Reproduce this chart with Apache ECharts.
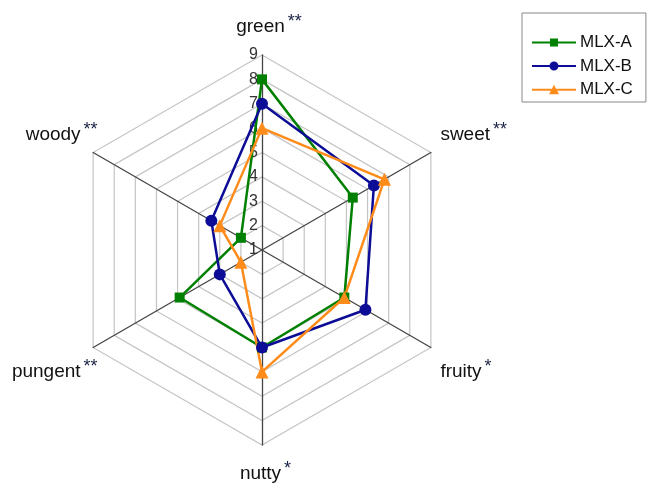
<html>
<head>
<meta http-equiv="content-type" content="text/html; charset=utf-8">
<script src="https://cdn.jsdelivr.net/npm/echarts@6/dist/echarts.min.js"></script>
<style>
	html, body { margin: 0; padding: 0; background: #ffffff; }
	#chart { width: 647px; height: 487px; }
</style>
<title>Radar</title>
</head>
<body>
<div id="chart"></div>
<script type="text/javascript">
////////////////////////////////////////////////////////////////////////////
// data (axes listed counter-clockwise from the top, as echarts draws them)
var attributes = ["green", "woody", "pungent", "nutty", "fruity", "sweet"];
var stars = ["**", "**", "**", "*", "*", "**"];
var series_names = ["MLX-A", "MLX-B", "MLX-C"];
var mlx_a = [8.0, 2.0, 4.9, 5.0, 4.9, 5.3];
var mlx_b = [7.0, 3.4, 3.0, 5.0, 5.9, 6.3];
var mlx_c = [6.0, 3.0, 2.0, 6.0, 4.9, 6.8];

////////////////////////////////////////////////////////////////////////////
// styles
var colors = ["#008000", "#0c0c96", "#ff8c1a"];
var symbols = ["rect", "circle", "triangle"];
var sym_sizes = [10, 12, 13];
var font = "'Liberation Sans', Arial, sans-serif";
// name placement style per axis: top, upper sides, lower sides, bottom
var name_pos = ["t", "u", "d", "b", "d", "u"];

// legend icons: a line with the marker in the middle
var icons = [
	"path://M0,4H44V6H0Z M18,1H26V9H18Z",
	"path://M0,4H44V6H0Z M22,0.5A4.5,4.5 0 1,1 21.99,0.5Z",
	"path://M0,4H44V6H0Z M22,0L27,9.5L17,9.5Z"
];

var indicators = attributes.map(function (a, i) {
	var ind = { name: a, min: 1, max: 9 };
	if (i > 0) ind.axisLabel = { show: false };
	return ind;
});

var all_values = [mlx_a, mlx_b, mlx_c];
var series_data = series_names.map(function (n, i) {
	return {
		name: n,
		value: all_values[i],
		symbol: symbols[i],
		symbolSize: sym_sizes[i],
		itemStyle: { color: colors[i] },
		lineStyle: { color: colors[i], width: 2.5 }
	};
});

// rich text styles for the axis names (word + superscript stars)
// the stars token has zero width so the word alone is placed at the axis end
var word_pads = { t: [4, 0, 8, 0], u: [4, 0, 28, 0], d: [38, 0, 0, 0], b: [8, 0, 0, 0] };
var star_top = { t: 0, u: 0, d: 34, b: 4 };
var rich = {};
for (var k in word_pads) {
	rich['n' + k] = { fontSize: 19, fontFamily: font, color: '#111', verticalAlign: 'top', align: 'left', padding: word_pads[k] };
	rich['s' + k] = { fontSize: 18, fontFamily: font, color: '#1a2244', verticalAlign: 'top', width: 0, align: 'left', padding: [star_top[k], 0, 0, 3] };
}

var chart = echarts.init(document.getElementById('chart'));

var option = {
	animation: false,
	textStyle: { fontFamily: font },
	legend: {
		orient: 'vertical',
		left: 522,
		top: 13,
		padding: [21, 13, 4, 10],
		itemGap: 6.5,
		itemWidth: 44,
		itemHeight: 10,
		borderColor: '#888888',
		borderWidth: 1,
		textStyle: { fontSize: 17, color: '#111', fontFamily: font, padding: [0, 0, 0, -1] },
		data: series_names.map(function (n, i) { return { name: n, icon: icons[i] }; })
	},
	radar: {
		center: [262, 250],
		radius: 195,
		shape: 'polygon',
		splitNumber: 8,
		startAngle: 90,
		indicator: indicators,
		axisName: {
			color: '#111',
			fontSize: 19,
			fontFamily: font,
			formatter: function (name) {
				var i = attributes.indexOf(name);
				var p = name_pos[i];
				return '{n' + p + '|' + name + '}{s' + p + '|' + stars[i] + '}';
			},
			rich: rich
		},
		nameGap: 11,
		axisLine: { lineStyle: { color: '#444', width: 1.3 } },
		splitLine: { lineStyle: { color: '#c4c4c4', width: 1.2 } },
		splitArea: { show: false },
		axisLabel: { show: true, color: '#333', fontSize: 16, fontFamily: font, margin: 4, showMinLabel: true, showMaxLabel: true }
	},
	series: [{
		type: 'radar',
		data: series_data
	}]
};

chart.setOption(option);
</script>
</body>
</html>
